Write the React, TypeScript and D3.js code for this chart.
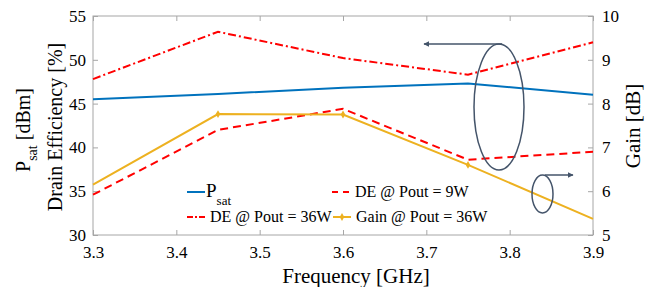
import React, { useEffect, useRef } from "react";
import * as d3 from "d3";

const freqs = [3.3, 3.45, 3.6, 3.75, 3.9];
const psat = [45.5, 46.1, 46.8, 47.3, 46.0];
const de36 = [47.8, 53.2, 50.2, 48.3, 52.0];
const de9 = [34.6, 42.0, 44.4, 38.6, 39.5];
const gain36 = [6.15, 7.76, 7.75, 6.6, 5.37];

const xTicks = [3.3, 3.4, 3.5, 3.6, 3.7, 3.8, 3.9];
const leftTicks = [30, 35, 40, 45, 50, 55];
const rightTicks = [5, 6, 7, 8, 9, 10];

const App = () => {
  const svgRef = useRef<SVGSVGElement>(null);

  useEffect(() => {
    const width = 657;
    const height = 287;
    const margin = { top: 16, right: 64, bottom: 52, left: 93 };
    const font = "'Liberation Serif', 'DejaVu Serif', 'Times New Roman', serif";
    const axisColor = "#a6a6a6";
    const noteColor = "#44546a";

    const svg = d3.select(svgRef.current);
    svg.selectAll("*").remove();
    svg.attr("width", width).attr("height", height).style("font-family", font);

    const x = d3.scaleLinear().domain([3.3, 3.9]).range([margin.left, width - margin.right]);
    const yL = d3.scaleLinear().domain([30, 55]).range([height - margin.bottom, margin.top]);
    const yR = d3.scaleLinear().domain([5, 10]).range([height - margin.bottom, margin.top]);

    const x0 = margin.left;
    const x1 = width - margin.right;
    const y0 = height - margin.bottom;
    const y1 = margin.top;

    // box
    svg.append("rect")
      .attr("x", x0).attr("y", y1)
      .attr("width", x1 - x0).attr("height", y0 - y1)
      .attr("fill", "none").attr("stroke", axisColor).attr("stroke-width", 1);

    const style = (g) => {
      g.attr("font-family", null).attr("font-size", 17);
      g.select(".domain").remove();
      g.selectAll(".tick line").attr("stroke", axisColor);
      g.selectAll(".tick text").attr("fill", "#000");
    };

    svg.append("g")
      .attr("transform", `translate(0,${y0})`)
      .call(d3.axisBottom(x).tickValues(xTicks).tickFormat(d3.format(".1f")).tickSizeInner(-5).tickSizeOuter(0).tickPadding(11))
      .call(style);
    svg.append("g")
      .attr("transform", `translate(0,${y1})`)
      .call(d3.axisTop(x).tickValues(xTicks).tickFormat(() => "").tickSizeInner(-5).tickSizeOuter(0))
      .call(style);
    svg.append("g")
      .attr("transform", `translate(${x0},0)`)
      .call(d3.axisLeft(yL).tickValues(leftTicks).tickFormat(d3.format("d")).tickSizeInner(-5).tickSizeOuter(0).tickPadding(7))
      .call(style);
    svg.append("g")
      .attr("transform", `translate(${x1},0)`)
      .call(d3.axisRight(yR).tickValues(rightTicks).tickFormat(d3.format("d")).tickSizeInner(-5).tickSizeOuter(0).tickPadding(9))
      .call(style);

    // axis titles
    svg.append("text")
      .attr("x", 356).attr("y", 283)
      .attr("text-anchor", "middle")
      .attr("font-size", 21)
      .text("Frequency [GHz]");

    const leftTitle = svg.append("text")
      .attr("transform", "translate(30,130) rotate(-90)")
      .attr("text-anchor", "middle")
      .attr("font-size", 20);
    leftTitle.append("tspan").text("P");
    leftTitle.append("tspan").attr("dy", 7).attr("font-size", 14).text("sat");
    leftTitle.append("tspan").attr("dy", -7).text(" [dBm]");

    svg.append("text")
      .attr("transform", "translate(62,127) rotate(-90)")
      .attr("text-anchor", "middle")
      .attr("font-size", 20)
      .text("Drain Efficiency [%]");

    svg.append("text")
      .attr("transform", "translate(640,126) rotate(-90)")
      .attr("text-anchor", "middle")
      .attr("font-size", 21)
      .text("Gain [dB]");

    // series
    const lineL = (vals) => d3.line<number>().x((d, i) => x(freqs[i])).y((d) => yL(d))(vals);
    const lineR = (vals) => d3.line<number>().x((d, i) => x(freqs[i])).y((d) => yR(d))(vals);

    const plot = svg.append("g");
    plot.append("path").attr("d", lineL(de9))
      .attr("fill", "none").attr("stroke", "#ff0000").attr("stroke-width", 2).attr("stroke-dasharray", "8,5");
    plot.append("path").attr("d", lineL(de36))
      .attr("fill", "none").attr("stroke", "#ff0000").attr("stroke-width", 2).attr("stroke-dasharray", "8,3,2,3");
    plot.append("path").attr("d", lineL(psat))
      .attr("fill", "none").attr("stroke", "#0072bd").attr("stroke-width", 2);
    plot.append("path").attr("d", lineR(gain36))
      .attr("fill", "none").attr("stroke", "#edb120").attr("stroke-width", 2);

    // markers sit on the inner points only; the end ones are hidden by the axes
    const diamond = d3.symbol().type(d3.symbolDiamond).size(18);
    plot.selectAll(".gm")
      .data(gain36.slice(1, -1))
      .enter().append("path")
      .attr("transform", (d, i) => `translate(${x(freqs[i + 1])},${yR(d)})`)
      .attr("d", diamond)
      .attr("fill", "#edb120");

    // annotations
    const defs = svg.append("defs");
    defs.append("marker")
      .attr("id", "arrowhead")
      .attr("viewBox", "0 0 10 10")
      .attr("refX", 9).attr("refY", 5)
      .attr("markerWidth", 6).attr("markerHeight", 6)
      .attr("markerUnits", "userSpaceOnUse")
      .attr("orient", "auto")
      .append("path").attr("d", "M0,0 L10,5 L0,10 Z").attr("fill", noteColor);

    svg.append("ellipse")
      .attr("cx", 499).attr("cy", 107).attr("rx", 25).attr("ry", 63)
      .attr("fill", "none").attr("stroke", noteColor).attr("stroke-width", 1.5);
    svg.append("line")
      .attr("x1", 502).attr("y1", 44).attr("x2", 424).attr("y2", 44)
      .attr("stroke", noteColor).attr("stroke-width", 1.5).attr("marker-end", "url(#arrowhead)");

    svg.append("ellipse")
      .attr("cx", 542.5).attr("cy", 194).attr("rx", 10.5).attr("ry", 19)
      .attr("fill", "none").attr("stroke", noteColor).attr("stroke-width", 1.5);
    svg.append("line")
      .attr("x1", 545).attr("y1", 175).attr("x2", 573).attr("y2", 175)
      .attr("stroke", noteColor).attr("stroke-width", 1.5).attr("marker-end", "url(#arrowhead)");

    // legend
    const leg = svg.append("g").attr("font-size", 16);
    const items = [
      { x: 187, y: 192, color: "#0072bd", dash: null, marker: false, label: "P", sub: "sat" },
      { x: 332, y: 192, color: "#ff0000", dash: "6,5", marker: false, label: "DE @ Pout = 9W", sub: null },
      { x: 187, y: 217, color: "#ff0000", dash: "6,2,2,2", marker: false, label: "DE @ Pout = 36W", sub: null },
      { x: 333, y: 217, color: "#edb120", dash: null, marker: true, label: "Gain @ Pout = 36W", sub: null },
    ];
    items.forEach((it) => {
      const ln = leg.append("line")
        .attr("x1", it.x).attr("x2", it.x + 18)
        .attr("y1", it.y).attr("y2", it.y)
        .attr("stroke", it.color).attr("stroke-width", 2);
      if (it.dash) ln.attr("stroke-dasharray", it.dash);
      if (it.marker) {
        leg.append("path")
          .attr("transform", `translate(${it.x + 9},${it.y})`)
          .attr("d", diamond).attr("fill", it.color);
      }
      const t = leg.append("text").attr("x", it.x + (it.sub ? 19 : 23)).attr("y", it.y + 5);
      if (it.sub) {
        t.attr("font-size", 19).append("tspan").text(it.label);
        t.append("tspan").attr("dy", 8).attr("font-size", 13).text(it.sub);
      } else {
        t.text(it.label);
      }
    });
  }, []);

  return (
    <svg ref={svgRef} style={{ position: "absolute", left: 0, top: 0 }}></svg>
  );
};

export default App;
